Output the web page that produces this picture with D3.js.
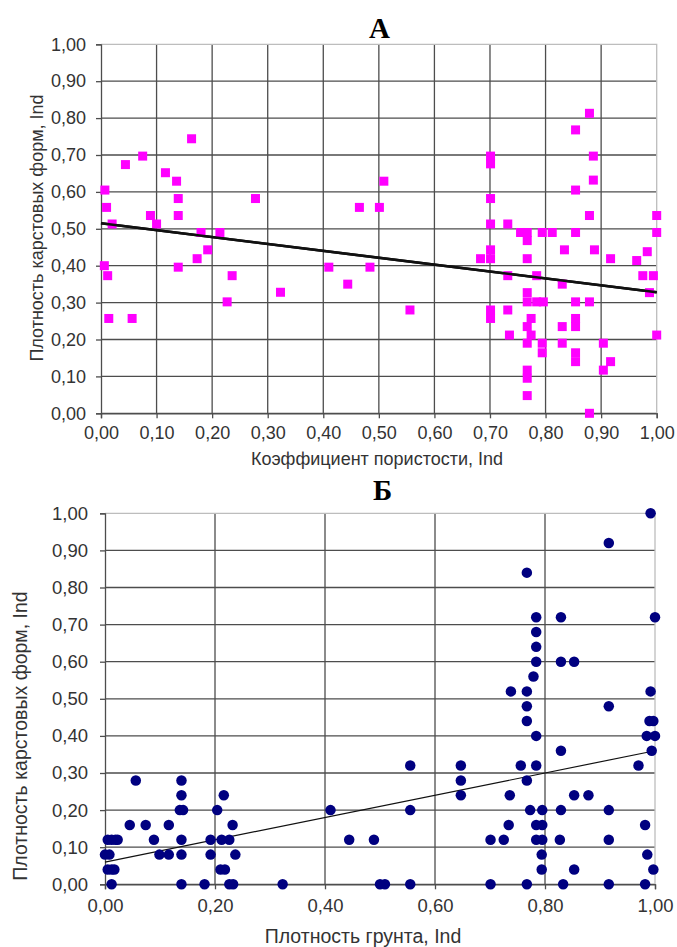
<!DOCTYPE html>
<html>
<head>
<meta charset="utf-8">
<script src="https://cdn.jsdelivr.net/npm/d3@7/dist/d3.min.js"></script>
<style>
  body { margin: 0; background: #fff; }
  svg text { font-family: "Liberation Sans", Arial, sans-serif; fill: #333; }
</style>
</head>
<body>
<div id="chart"></div>
<script>
// Panel A: porosity coefficient vs karst form density
var poreX = [0.007, 0.01, 0.02, 0.006, 0.012, 0.014, 0.056, 0.044, 0.075, 0.089, 0.10, 0.116, 0.136, 0.139, 0.139, 0.139,
  0.163, 0.18, 0.173, 0.192, 0.214, 0.236, 0.227, 0.278, 0.323, 0.41, 0.444, 0.484, 0.465, 0.501, 0.509, 0.556,
  0.701, 0.701, 0.701, 0.701, 0.701, 0.701, 0.683, 0.701, 0.701, 0.732, 0.732, 0.732, 0.735, 0.755, 0.767, 0.767,
  0.767, 0.767, 0.767, 0.767, 0.767, 0.767, 0.767, 0.767, 0.774, 0.774, 0.784, 0.784, 0.796, 0.794, 0.812, 0.794,
  0.794, 0.834, 0.83, 0.83, 0.83, 0.854, 0.854, 0.854, 0.854, 0.854, 0.854, 0.854, 0.854, 0.879, 0.879, 0.879,
  0.879, 0.886, 0.886, 0.888, 0.904, 0.904, 0.917, 0.917, 0.964, 0.983, 0.975, 0.987, 0.994, 1.0, 1.0, 1.0];
var poreY = [0.605, 0.558, 0.513, 0.40, 0.373, 0.257, 0.257, 0.674, 0.697, 0.536, 0.513, 0.652, 0.629, 0.582, 0.536, 0.396,
  0.744, 0.49, 0.419, 0.443, 0.49, 0.373, 0.302, 0.582, 0.328, 0.396, 0.35, 0.396, 0.558, 0.558, 0.629, 0.28,
  0.697, 0.676, 0.582, 0.513, 0.443, 0.419, 0.419, 0.28, 0.257, 0.513, 0.373, 0.28, 0.212, 0.49, 0.49, 0.468,
  0.419, 0.327, 0.302, 0.235, 0.19, 0.117, 0.095, 0.048, 0.257, 0.212, 0.373, 0.302, 0.302, 0.49, 0.49, 0.19,
  0.164, 0.443, 0.35, 0.235, 0.19, 0.768, 0.605, 0.49, 0.302, 0.257, 0.235, 0.164, 0.14, 0.813, 0.536, 0.302,
  0.0, 0.697, 0.632, 0.443, 0.19, 0.117, 0.419, 0.14, 0.414, 0.438, 0.373, 0.327, 0.373, 0.536, 0.49, 0.212];
var poreTrend = [[0, 0.515], [1, 0.328]];

// Panel B: soil density vs karst form density
var soilX = [0, 0.008, 0.005, 0.012, 0.019, 0.023, 0.005, 0.012, 0.017, 0.012, 0.056, 0.045, 0.074, 0.089, 0.099, 0.116,
  0.116, 0.139, 0.139, 0.136, 0.142, 0.139, 0.139, 0.139, 0.181, 0.192, 0.192, 0.204, 0.216, 0.212, 0.226, 0.21,
  0.218, 0.232, 0.237, 0.226, 0.233, 0.323, 0.41, 0.444, 0.489, 0.5, 0.509, 0.555, 0.555, 0.555, 0.647, 0.647,
  0.647, 0.701, 0.701, 0.725, 0.734, 0.736, 0.738, 0.756, 0.767, 0.767, 0.767, 0.767, 0.767, 0.767, 0.773, 0.779,
  0.784, 0.784, 0.784, 0.784, 0.784, 0.784, 0.784, 0.784, 0.795, 0.795, 0.795, 0.794, 0.794, 0.829, 0.829, 0.853,
  0.829, 0.829, 0.827, 0.833, 0.853, 0.879, 0.853, 0.916, 0.916, 0.916, 0.916, 0.916, 0.97, 0.982, 0.986, 0.982,
  0.985, 0.992, 0.992, 0.99, 0.997, 0.994, 1.0, 1.0, 0.997];
var soilY = [0.08, 0.08, 0.12, 0.12, 0.12, 0.12, 0.04, 0.04, 0.04, 0, 0.28, 0.16, 0.16, 0.12, 0.08, 0.16,
  0.08, 0.28, 0.24, 0.20, 0.20, 0.12, 0.08, 0, 0, 0.12, 0.08, 0.20, 0.24, 0.12, 0.12, 0.04,
  0.04, 0.16, 0.08, 0, 0, 0, 0.20, 0.12, 0.12, 0, 0, 0.32, 0.20, 0, 0.32, 0.28,
  0.24, 0.12, 0, 0.12, 0.16, 0.24, 0.52, 0.32, 0.84, 0.52, 0.48, 0.44, 0.28, 0, 0.20, 0.56,
  0.72, 0.68, 0.64, 0.60, 0.40, 0.32, 0.16, 0.12, 0.20, 0.16, 0.12, 0.08, 0.04, 0.72, 0.60, 0.60,
  0.36, 0.20, 0.12, 0, 0.24, 0.24, 0.04, 0.92, 0.48, 0.20, 0.12, 0, 0.32, 0.16, 0.08, 0,
  0.40, 1.00, 0.52, 0.44, 0.44, 0.36, 0.40, 0.72, 0.04];
var soilTrend = [[0, 0.06], [1, 0.36]];

var yTicks = d3.range(0, 1.0001, 0.1);
var xTicksA = d3.range(0, 1.0001, 0.1);
var xTicksB = d3.range(0, 1.0001, 0.2);

var fmt = function(d) { return d3.format(".2f")(d).replace(".", ","); };

var svg = d3.select("#chart").append("svg")
  .attr("width", 677)
  .attr("height", 947);

function drawPanel(p) {
  var x = d3.scaleLinear().domain([0, 1]).range([p.left, p.right]);
  var y = d3.scaleLinear().domain([0, 1]).range([p.bottom, p.top]);
  var g = svg.append("g");

  // grid
  g.selectAll(".hgrid").data(p.yTicks.slice(0, -1)).enter().append("line")
    .attr("x1", p.left).attr("x2", p.right)
    .attr("y1", d => y(d)).attr("y2", d => y(d))
    .attr("stroke", "#4d4d4d").attr("stroke-width", 1.3);
  g.selectAll(".vgrid").data(p.xTicks.slice(1, -1)).enter().append("line")
    .attr("y1", p.top).attr("y2", p.bottom)
    .attr("x1", d => x(d)).attr("x2", d => x(d))
    .attr("stroke", "#4d4d4d").attr("stroke-width", 1.3);
  // light border top/right
  g.append("path")
    .attr("d", "M" + p.left + "," + p.top + "H" + p.right + "V" + p.bottom)
    .attr("fill", "none").attr("stroke", "#bdbdbd").attr("stroke-width", 1.3);

  // axes
  var yAxis = g.append("g").attr("transform", "translate(" + p.left + ",0)")
    .call(d3.axisLeft(y).tickValues(p.yTicks).tickFormat(fmt).tickSize(5).tickPadding(p.yPad));
  var xAxis = g.append("g").attr("transform", "translate(0," + p.bottom + ")")
    .call(d3.axisBottom(x).tickValues(p.xTicks).tickFormat(fmt).tickSize(5).tickPadding(p.xPad));
  [yAxis, xAxis].forEach(function(a) {
    a.selectAll("path, line").attr("stroke", "#4d4d4d").attr("stroke-width", 1.3);
    a.selectAll("text").attr("font-size", p.tickFont).attr("fill", "#333")
      .style("font-family", "'Liberation Sans', Arial, sans-serif");
  });

  // trend
  g.append("line")
    .attr("x1", x(p.trend[0][0])).attr("y1", y(p.trend[0][1]))
    .attr("x2", x(p.trend[1][0])).attr("y2", y(p.trend[1][1]))
    .attr("stroke", "#111").attr("stroke-width", p.trendWidth);

  // points
  var pts = p.xs.map((v, i) => [v, p.ys[i]]);
  if (p.shape === "square") {
    g.selectAll(".pt").data(pts).enter().append("rect")
      .attr("x", d => x(d[0]) - p.size / 2).attr("y", d => y(d[1]) - p.size / 2)
      .attr("width", p.size).attr("height", p.size)
      .attr("fill", p.color);
  } else {
    g.selectAll(".pt").data(pts).enter().append("circle")
      .attr("cx", d => x(d[0])).attr("cy", d => y(d[1]))
      .attr("r", p.size / 2)
      .attr("fill", p.color);
  }
  // trend drawn over points in panel A
  if (p.trendOnTop) {
    g.append("line")
      .attr("x1", x(p.trend[0][0])).attr("y1", y(p.trend[0][1]))
      .attr("x2", x(p.trend[1][0])).attr("y2", y(p.trend[1][1]))
      .attr("stroke", "#111").attr("stroke-width", p.trendWidth);
  }

  // titles
  svg.append("text").attr("x", p.titleX).attr("y", p.titleY)
    .attr("text-anchor", "middle")
    .style("font-family", "'Liberation Serif', 'Times New Roman', serif")
    .style("font-weight", "bold").style("font-size", "29px").style("fill", "#000")
    .text(p.title);
  svg.append("text").attr("x", p.xLabelX).attr("y", p.xLabelY)
    .attr("text-anchor", "middle").style("font-size", p.labelFont + "px")
    .text(p.xLabel);
  svg.append("text")
    .attr("transform", "translate(" + p.yLabelX + "," + p.yLabelY + ") rotate(-90)")
    .attr("text-anchor", "middle").style("font-size", p.labelFont + "px")
    .text("Плотность карстовых форм, Ind");
}

drawPanel({
  left: 101, right: 656.7, top: 44.3, bottom: 413.3,
  xTicks: xTicksA, yTicks: yTicks, xPad: 8, yPad: 10, tickFont: 18,
  xs: poreX, ys: poreY, trend: poreTrend, trendWidth: 2.6, trendOnTop: true,
  shape: "square", size: 9, color: "#ff00ff",
  title: "А", titleX: 379.5, titleY: 37.5,
  xLabel: "Коэффициент пористости, Ind", xLabelX: 377, xLabelY: 465,
  yLabelX: 43, yLabelY: 228, labelFont: 18
});

drawPanel({
  left: 105, right: 655, top: 513.3, bottom: 884.3,
  xTicks: xTicksB, yTicks: yTicks, xPad: 10, yPad: 12, tickFont: 18.5,
  xs: soilX, ys: soilY, trend: soilTrend, trendWidth: 1.2, trendOnTop: false,
  shape: "circle", size: 10.5, color: "#000080",
  title: "Б", titleX: 382.5, titleY: 500,
  xLabel: "Плотность грунта, Ind", xLabelX: 363, xLabelY: 943,
  yLabelX: 27, yLabelY: 736, labelFont: 19.5
});
</script>
</body>
</html>
